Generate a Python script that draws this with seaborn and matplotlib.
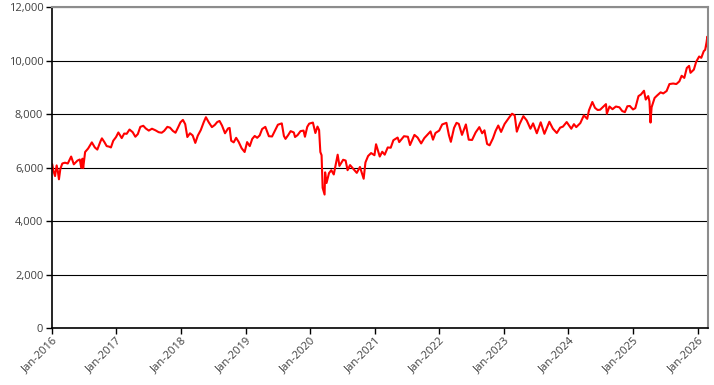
import pandas as pd
import matplotlib
matplotlib.use("Agg")
import matplotlib.pyplot as plt
import matplotlib.dates as mdates
from matplotlib.ticker import FuncFormatter
import seaborn as sns

dates = [
    "2016-01-04", "2016-01-11", "2016-01-20", "2016-01-29", "2016-02-05", "2016-02-11", "2016-02-19",
    "2016-03-01", "2016-03-16", "2016-04-01", "2016-04-20", "2016-05-05", "2016-05-26", "2016-06-08",
    "2016-06-16", "2016-06-23", "2016-06-27", "2016-07-08", "2016-07-25", "2016-08-15", "2016-09-01",
    "2016-09-15", "2016-10-03", "2016-10-11", "2016-10-25", "2016-11-07", "2016-11-21", "2016-12-01",
    "2016-12-14", "2016-12-30",
    "2017-01-12", "2017-01-31", "2017-02-14", "2017-02-28", "2017-03-16", "2017-04-03", "2017-04-18",
    "2017-05-02", "2017-05-16", "2017-06-02", "2017-06-16", "2017-07-03", "2017-07-21", "2017-08-10",
    "2017-08-28", "2017-09-14", "2017-09-28", "2017-10-16", "2017-10-31", "2017-11-16", "2017-12-01",
    "2017-12-15", "2017-12-29",
    "2018-01-12", "2018-01-25", "2018-02-06", "2018-02-21", "2018-03-08", "2018-03-23", "2018-04-06",
    "2018-04-23", "2018-05-10", "2018-05-22", "2018-06-08", "2018-06-25", "2018-07-11", "2018-07-25",
    "2018-08-07", "2018-08-21", "2018-09-07", "2018-09-24", "2018-10-03", "2018-10-12", "2018-10-26",
    "2018-11-09", "2018-11-23", "2018-12-10", "2018-12-27",
    "2019-01-10", "2019-01-25", "2019-02-08", "2019-02-22", "2019-03-08", "2019-03-22", "2019-04-05",
    "2019-04-23", "2019-05-13", "2019-05-31", "2019-06-14", "2019-07-03", "2019-07-25", "2019-08-06",
    "2019-08-15", "2019-08-30", "2019-09-13", "2019-10-01", "2019-10-08", "2019-10-22", "2019-11-08",
    "2019-11-25", "2019-12-03", "2019-12-16", "2019-12-27",
    "2020-01-17", "2020-01-31", "2020-02-12", "2020-02-21", "2020-02-28", "2020-03-06", "2020-03-12",
    "2020-03-16", "2020-03-23", "2020-03-26", "2020-04-03", "2020-04-17", "2020-04-30", "2020-05-14",
    "2020-06-05", "2020-06-15", "2020-07-06", "2020-07-20", "2020-07-31", "2020-08-14", "2020-09-01",
    "2020-09-21", "2020-10-09", "2020-10-30", "2020-11-09", "2020-11-24", "2020-12-11", "2020-12-30",
    "2021-01-08", "2021-01-29", "2021-02-12", "2021-02-26", "2021-03-15", "2021-04-01", "2021-04-16",
    "2021-05-10", "2021-05-19", "2021-06-15", "2021-07-07", "2021-07-19", "2021-08-13", "2021-08-31",
    "2021-09-20", "2021-10-08", "2021-10-25", "2021-11-12", "2021-11-26", "2021-12-10", "2021-12-31",
    "2022-01-17", "2022-02-10", "2022-02-24", "2022-03-07", "2022-03-25", "2022-04-08", "2022-04-21",
    "2022-05-09", "2022-05-31", "2022-06-16", "2022-07-05", "2022-07-25", "2022-08-15", "2022-08-31",
    "2022-09-13", "2022-09-28", "2022-10-12", "2022-10-31", "2022-11-15", "2022-11-30", "2022-12-16",
    "2023-01-05", "2023-01-20", "2023-02-03", "2023-02-16", "2023-03-03", "2023-03-15", "2023-03-31",
    "2023-04-21", "2023-05-10", "2023-05-31", "2023-06-15", "2023-07-06", "2023-07-28", "2023-08-18",
    "2023-09-15", "2023-10-05", "2023-10-27", "2023-11-15", "2023-12-01", "2023-12-22",
    "2024-01-17", "2024-02-01", "2024-02-14", "2024-03-08", "2024-03-28", "2024-04-16", "2024-04-26",
    "2024-05-15", "2024-05-30", "2024-06-14", "2024-06-28", "2024-07-12", "2024-07-31", "2024-08-05",
    "2024-08-20", "2024-09-06", "2024-09-25", "2024-10-15", "2024-10-31", "2024-11-15", "2024-11-29",
    "2024-12-13", "2024-12-31",
    "2025-01-13", "2025-01-31", "2025-02-14", "2025-03-03", "2025-03-13", "2025-03-27", "2025-04-03",
    "2025-04-09", "2025-04-15", "2025-05-02", "2025-05-16", "2025-06-05", "2025-06-20", "2025-07-09",
    "2025-07-25", "2025-08-15", "2025-09-02", "2025-09-19", "2025-10-02", "2025-10-17", "2025-10-31",
    "2025-11-13", "2025-11-21", "2025-12-10", "2025-12-23",
    "2026-01-09", "2026-01-21", "2026-02-04", "2026-02-12", "2026-02-20", "2026-02-24", "2026-02-27",
]

values = [
    6125, 5870, 5680, 6080, 5850, 5560, 5950,
    6150, 6180, 6150, 6410, 6120, 6260, 6300,
    5990, 6330, 5980, 6580, 6710, 6940, 6750,
    6670, 6980, 7090, 6950, 6800, 6780, 6750,
    7000, 7140,
    7310, 7100, 7270, 7260, 7420, 7320, 7150,
    7250, 7520, 7560, 7460, 7380, 7450, 7390,
    7320, 7300, 7370, 7520, 7490, 7370, 7300,
    7490, 7690,
    7780, 7620, 7140, 7280, 7200, 6920, 7190,
    7400, 7700, 7880, 7680, 7510, 7590, 7700,
    7740, 7570, 7280, 7460, 7480, 7000, 6940,
    7110, 6960, 6720, 6580,
    6950, 6800, 7070, 7180, 7110, 7200, 7440,
    7520, 7170, 7160, 7350, 7600, 7650, 7180,
    7070, 7210, 7360, 7310, 7140, 7210, 7360,
    7380, 7150, 7520, 7640,
    7680, 7290, 7530, 7400, 6580, 6460, 5240,
    5150, 4990, 5820, 5420, 5790, 5900, 5740,
    6480, 6060, 6290, 6260, 5900, 6090, 5950,
    5800, 6020, 5580, 6190, 6430, 6540, 6460,
    6870, 6410, 6590, 6480, 6750, 6740, 7020,
    7120, 6950, 7170, 7150, 6840, 7220, 7120,
    6900, 7100, 7220, 7350, 7040, 7290, 7380,
    7610, 7670, 7210, 6960, 7480, 7670, 7630,
    7220, 7610, 7040, 7030, 7310, 7510, 7280,
    7390, 6880, 6830, 7090, 7370, 7570, 7330,
    7630, 7770, 7900, 8010, 7950, 7340, 7630,
    7920, 7760, 7450, 7650, 7280, 7690, 7260,
    7710, 7450, 7290, 7490, 7530, 7700,
    7450, 7620, 7510, 7660, 7950, 7820, 8140,
    8450, 8230, 8150, 8160, 8250, 8370, 8010,
    8280, 8180, 8280, 8250, 8110, 8070, 8290,
    8300, 8170,
    8220, 8670, 8730, 8870, 8540, 8670, 8470,
    7680, 8250, 8600, 8690, 8810, 8770, 8860,
    9120, 9140, 9120, 9220, 9430, 9350, 9720,
    9800, 9540, 9660, 9950,
    10150, 10100, 10350, 10400, 10690, 10890, 10500,
]

y_ticks = [0, 2000, 4000, 6000, 8000, 10000, 12000]
x_start = "2016-01-01"
x_end = "2026-02-28"

df = pd.DataFrame({"date": pd.to_datetime(dates), "value": values})

sns.set_style("white")
plt.rcParams["font.family"] = ["Open Sans", "DejaVu Sans"]

fig, ax = plt.subplots(figsize=(7.14, 3.85), dpi=100)
fig.subplots_adjust(left=0.0724, right=0.9916, top=0.9818, bottom=0.148)

sns.lineplot(data=df, x="date", y="value", color="#ff0000", linewidth=1.5, ax=ax)

ax.set_xlim(pd.Timestamp(x_start), pd.Timestamp(x_end))
ax.set_ylim(y_ticks[0], y_ticks[-1])
ax.set_yticks(y_ticks)
ax.yaxis.set_major_formatter(FuncFormatter(lambda v, p: f"{v:,.0f}"))
ax.xaxis.set_major_locator(mdates.YearLocator(month=1, day=1))
ax.xaxis.set_major_formatter(mdates.DateFormatter("%b-%Y"))

# horizontal grid only, drawn under the line
ax.set_axisbelow(True)
ax.yaxis.grid(True, color="black", linewidth=0.8)
ax.xaxis.grid(False)

for side in ["left", "bottom"]:
    ax.spines[side].set_color("black")
    ax.spines[side].set_linewidth(1.2)
for side in ["top", "right"]:
    ax.spines[side].set_color("#8c8c8c")
    ax.spines[side].set_linewidth(1.5)

ax.tick_params(axis="both", direction="out", length=4, width=1, color="black",
               labelsize=8, labelcolor="#404040")
ax.tick_params(axis="y", left=True, pad=2)
ax.tick_params(axis="x", bottom=True, pad=1)
plt.setp(ax.get_xticklabels(), rotation=45, ha="right", rotation_mode="anchor")

ax.set_xlabel("")
ax.set_ylabel("")

plt.savefig("out.png", dpi=100)
